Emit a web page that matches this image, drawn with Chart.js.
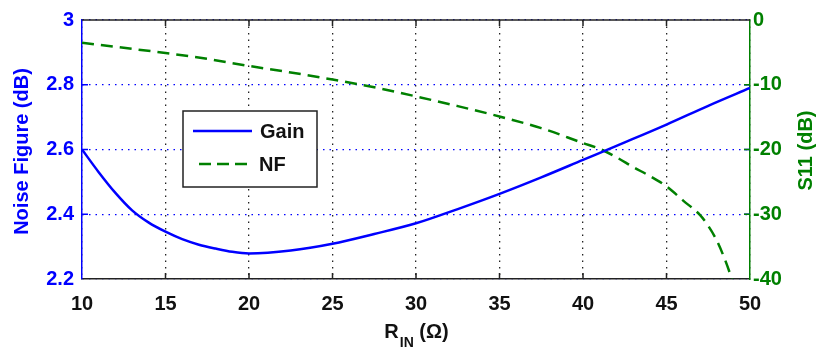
<!DOCTYPE html>
<html>
<head>
<meta charset="utf-8">
<script src="https://cdn.jsdelivr.net/npm/chart.js@4/dist/chart.umd.min.js"></script>
<style>
  html, body { margin: 0; padding: 0; background: #fff; }
</style>
</head>
<body>
<canvas id="myChart" width="817" height="351"></canvas>
<script>
/**
 * Data
 */

var gainR = [10, 11, 12, 13, 14, 15, 16, 17, 18, 19, 20, 22.5, 25, 27.5, 30, 32.5, 35, 37.5, 40, 42.5, 45, 47.5, 50];
var gainValues = [2.60, 2.53, 2.466, 2.412, 2.374, 2.346, 2.323, 2.306, 2.294, 2.284, 2.279, 2.288, 2.309, 2.339, 2.372, 2.416, 2.463, 2.514, 2.568, 2.622, 2.677, 2.735, 2.79];

var nfR = [10, 12.5, 15, 17.5, 20, 22.5, 25, 27.5, 30, 32.5, 35, 37.5, 40, 41, 42, 43, 44, 45, 46, 47, 47.5, 48, 48.5, 49];
var nfValues = [-3.5, -4.3, -5.1, -6.0, -7.1, -8.1, -9.2, -10.4, -11.8, -13.3, -14.9, -16.7, -19.0, -19.9, -21.2, -22.7, -24.1, -25.7, -27.9, -30.1, -31.8, -34.0, -37.0, -40.6];

var xTicks = [10, 15, 20, 25, 30, 35, 40, 45, 50];
var leftTicks = [2.2, 2.4, 2.6, 2.8, 3];
var rightTicks = [-40, -30, -20, -10, 0];

var BLUE = '#0000ff';
var GREEN = '#008000';
var FONT = "'Liberation Sans', Arial, sans-serif";

var toPoints = function(xs, ys) {
    var pts = [];
    for (var i = 0; i < xs.length; i++) {
        pts.push({ x: xs[i], y: ys[i] });
    }
    return pts;
};

/**
 * Frame, inward ticks, titles and legend
 */

var matlabBits = {
    id: 'matlabBits',
    beforeDatasetsDraw: function(chart) {
        var ctx = chart.ctx;
        var a = chart.chartArea;
        var sx = chart.scales.x, sy = chart.scales.y, sy1 = chart.scales.y1;
        ctx.save();
        // top border
        ctx.strokeStyle = '#222';
        ctx.lineWidth = 1.5;
        ctx.beginPath();
        ctx.moveTo(a.left, a.top);
        ctx.lineTo(a.right, a.top);
        ctx.stroke();
        // inward ticks
        var len = 6;
        for (var i = 1; i < xTicks.length - 1; i++) {
            var px = sx.getPixelForValue(xTicks[i]);
            ctx.beginPath();
            ctx.moveTo(px, a.bottom); ctx.lineTo(px, a.bottom - len);
            ctx.moveTo(px, a.top); ctx.lineTo(px, a.top + len);
            ctx.stroke();
        }
        ctx.strokeStyle = BLUE;
        for (var j = 1; j < leftTicks.length - 1; j++) {
            var py = sy.getPixelForValue(leftTicks[j]);
            ctx.beginPath();
            ctx.moveTo(a.left, py); ctx.lineTo(a.left + len, py);
            ctx.moveTo(a.right, py); ctx.lineTo(a.right - len, py);
            ctx.stroke();
        }
        ctx.strokeStyle = GREEN;
        for (var k = 1; k < rightTicks.length - 1; k++) {
            var py1 = sy1.getPixelForValue(rightTicks[k]);
            ctx.beginPath();
            ctx.moveTo(a.right, py1); ctx.lineTo(a.right - len, py1);
            ctx.stroke();
        }
        ctx.restore();
    },
    afterDraw: function(chart) {
        var ctx = chart.ctx;
        var a = chart.chartArea;
        ctx.save();
        ctx.textBaseline = 'middle';
        ctx.textAlign = 'center';

        // left title
        ctx.font = 'bold 20px ' + FONT;
        ctx.fillStyle = BLUE;
        ctx.save();
        ctx.translate(22, (a.top + a.bottom) / 2 + 2);
        ctx.rotate(-Math.PI / 2);
        ctx.fillText('Noise Figure (dB)', 0, 0);
        ctx.restore();

        // right title
        ctx.fillStyle = GREEN;
        ctx.save();
        ctx.translate(806, (a.top + a.bottom) / 2 + 1);
        ctx.rotate(-Math.PI / 2);
        ctx.fillText('S11 (dB)', 0, 0);
        ctx.restore();

        // x title with subscript
        ctx.fillStyle = '#111';
        ctx.textAlign = 'left';
        ctx.textBaseline = 'alphabetic';
        var big = 'bold 20px ' + FONT, small = 'bold 14px ' + FONT;
        ctx.font = big;
        var wR = ctx.measureText('R').width;
        var wRest = ctx.measureText(' (\u03A9)').width;
        ctx.font = small;
        var wSub = ctx.measureText('IN').width;
        var startX = (a.left + a.right) / 2 - (wR + wSub + wRest) / 2;
        ctx.font = big;
        ctx.fillText('R', startX, 338);
        ctx.font = small;
        ctx.fillText('IN', startX + wR + 1, 347);
        ctx.font = big;
        ctx.fillText(' (\u03A9)', startX + wR + wSub + 1, 338);

        // legend
        ctx.fillStyle = '#fff';
        ctx.fillRect(183, 111, 134, 76);
        ctx.strokeStyle = '#222';
        ctx.lineWidth = 1.5;
        ctx.strokeRect(183, 111, 134, 76);
        ctx.lineWidth = 2.5;
        ctx.strokeStyle = BLUE;
        ctx.beginPath(); ctx.moveTo(193, 131); ctx.lineTo(252, 131); ctx.stroke();
        ctx.strokeStyle = GREEN;
        ctx.setLineDash([12, 6]);
        ctx.beginPath(); ctx.moveTo(199, 164); ctx.lineTo(253, 164); ctx.stroke();
        ctx.setLineDash([]);
        ctx.fillStyle = '#111';
        ctx.font = big;
        ctx.textBaseline = 'middle';
        ctx.fillText('Gain', 260, 132);
        ctx.fillText('NF', 259, 165);
        ctx.restore();
    }
};

/**
 * Render chart
 */

var renderChart = function() {
    var ctx = document.getElementById('myChart').getContext('2d');
    var chart = new Chart(ctx, {
        type: 'line',
        data: {
            datasets: [{
                label: 'Gain',
                data: toPoints(gainR, gainValues),
                yAxisID: 'y',
                borderColor: BLUE,
                borderWidth: 2.5,
                pointRadius: 0,
                cubicInterpolationMode: 'monotone',
                fill: false
            }, {
                label: 'NF',
                data: toPoints(nfR, nfValues),
                yAxisID: 'y1',
                borderColor: GREEN,
                borderWidth: 2.5,
                borderDash: [12, 7],
                pointRadius: 0,
                cubicInterpolationMode: 'monotone',
                fill: false
            }]
        },
        options: {
            responsive: false,
            animation: false,
            devicePixelRatio: 1,
            layout: { padding: { top: 14, left: 0, right: 0, bottom: 0 } },
            plugins: {
                legend: { display: false },
                tooltip: { enabled: false }
            },
            scales: {
                x: {
                    type: 'linear',
                    min: 10,
                    max: 50,
                    afterFit: function(s) { s.height = 72; },
                    afterBuildTicks: function(s) { s.ticks = xTicks.map(function(v) { return { value: v }; }); },
                    grid: { color: '#222', lineWidth: 1.3, drawTicks: false },
                    border: { color: '#222', width: 1.5, dash: [1.5, 5] },
                    ticks: { color: '#111', padding: 13, maxRotation: 0, font: { family: FONT, size: 20, weight: 'bold' } }
                },
                y: {
                    type: 'linear',
                    position: 'left',
                    min: 2.2,
                    max: 3,
                    afterFit: function(s) { s.width = 82; },
                    afterBuildTicks: function(s) { s.ticks = leftTicks.map(function(v) { return { value: v }; }); },
                    grid: { color: BLUE, lineWidth: 1.3, drawTicks: false },
                    border: { color: BLUE, width: 1.5, dash: [1.5, 5] },
                    ticks: {
                        color: BLUE, padding: 8,
                        font: { family: FONT, size: 20, weight: 'bold' },
                        callback: function(v) { return v === 3 ? '3' : v.toFixed(1); }
                    }
                },
                y1: {
                    type: 'linear',
                    position: 'right',
                    min: -40,
                    max: 0,
                    afterFit: function(s) { s.width = 67; },
                    afterBuildTicks: function(s) { s.ticks = rightTicks.map(function(v) { return { value: v }; }); },
                    grid: { display: false, drawTicks: false },
                    border: { color: GREEN, width: 1.5 },
                    ticks: { color: GREEN, padding: 3, font: { family: FONT, size: 20, weight: 'bold' } }
                }
            }
        },
        plugins: [matlabBits]
    });
    return chart;
};

renderChart();
</script>
</body>
</html>
